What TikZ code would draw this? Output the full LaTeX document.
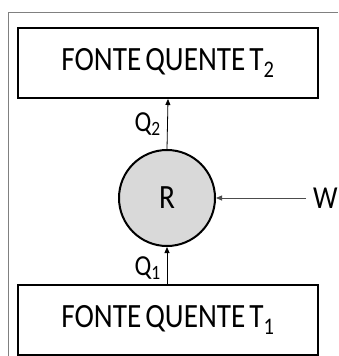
\documentclass[tikz,border=0pt]{standalone}
\usepackage{fontspec}
\setmainfont{Carlito}[FakeStretch=0.86,WordSpace=0.6]
\usetikzlibrary{arrows.meta}
\begin{document}
\begin{tikzpicture}[x=1pt,y=-1pt,
  txt/.style={font=\fontsize{34}{38}\selectfont},
  reservoir/.style={txt,draw=black,line width=2pt,minimum width=300pt,minimum height=70pt,inner sep=0pt},
  engine/.style={txt,circle,draw=black,line width=2pt,fill=black!15,minimum size=96pt,inner sep=0pt},
  flow/.style={line width=0.8pt,-{Triangle[length=6pt,width=5pt]}},
  lbl/.style={font=\fontsize{29}{32}\selectfont,inner sep=0pt}]
  \useasboundingbox (0,0) rectangle (338,356);
  % outer frame
  \draw[gray,line width=1pt] (338,12) -- (8,12) -- (8,356);
  % hot source, cold source and engine
  \node[reservoir] (hot) at (168,63) {FONTE QUENTE T\textsubscript{2}};
  \node[reservoir] (cold) at (168,320) {FONTE QUENTE T\textsubscript{1}};
  \node[engine] (r) at (167,198) {R};
  \node[lbl,font=\fontsize{32}{36}\selectfont,anchor=base west] (w) at (313,208) {W};
  \coordinate (wstart) at (306,198);
  % heat and work flows
  \draw[flow] (r.north) -- (hot.south);
  \draw[flow] (cold.north -| r.south) -- (r.south);
  \draw[flow,draw=black!70] (wstart) -- (r.east);
  \node[lbl,anchor=base east] (q2) at (161,131) {Q\textsubscript{2}};
  \node[lbl,anchor=base east] (q1) at (161,275) {Q\textsubscript{1}};
\end{tikzpicture}
\end{document}
